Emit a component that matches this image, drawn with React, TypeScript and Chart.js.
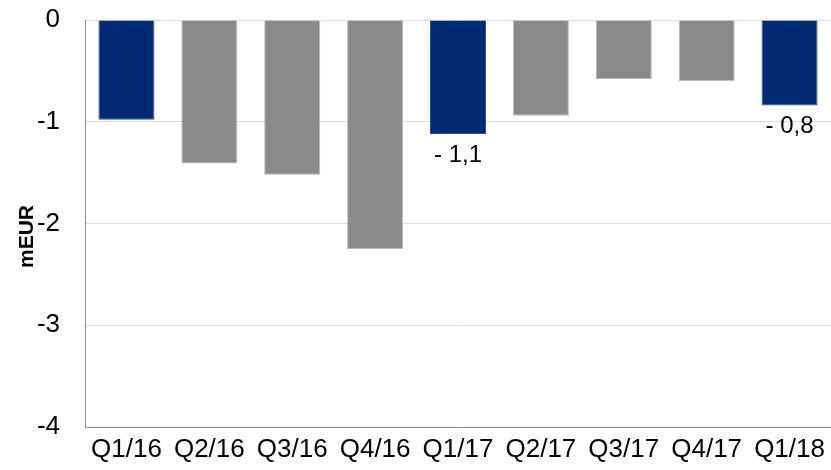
import { useEffect, useRef } from "react";
import { Chart, registerables } from "chart.js";

Chart.register(...registerables);

// Quarterly result in mEUR
const quarters = ["Q1/16", "Q2/16", "Q3/16", "Q4/16", "Q1/17", "Q2/17", "Q3/17", "Q4/17", "Q1/18"];
const resultValues = [-0.98, -1.41, -1.52, -2.25, -1.12, -0.94, -0.58, -0.6, -0.84];
// First quarters of each year are shown in the accent colour
const firstQuarter = [true, false, false, false, true, false, false, false, true];
// Bars that carry a value label
const labelledBars = [4, 8];
const yMin = -4;
const yMax = 0;
const yStep = 1;
const axisTitle = "mEUR";

const NAVY = "#002a74";
const GREY = "#8a8a8a";
const FONT = '"Liberation Sans", Arial, sans-serif';

const formatValue = (v: number) => {
  const s = Math.abs(v).toFixed(1).replace(".", ",");
  return v < 0 ? "- " + s : s;
};

const valueLabelPlugin = {
  id: "valueLabels",
  afterDatasetsDraw(chart: any) {
    const { ctx } = chart;
    const meta = chart.getDatasetMeta(0);
    ctx.save();
    ctx.font = `24px ${FONT}`;
    ctx.fillStyle = "#000";
    ctx.textAlign = "center";
    ctx.textBaseline = "middle";
    labelledBars.forEach((i) => {
      const bar = meta.data[i];
      const v = resultValues[i];
      ctx.fillText(formatValue(v), bar.x, bar.y + 21);
    });
    ctx.restore();
  },
};

const axisTitlePlugin = {
  id: "axisTitleLeft",
  afterDraw(chart: any) {
    const { ctx, chartArea } = chart;
    ctx.save();
    ctx.translate(33, (chartArea.top + chartArea.bottom) / 2 + 13);
    ctx.rotate(-Math.PI / 2);
    ctx.font = `bold 21px ${FONT}`;
    ctx.fillStyle = "#000";
    ctx.textAlign = "center";
    ctx.textBaseline = "alphabetic";
    ctx.fillText(axisTitle, 0, 0);
    ctx.restore();
  },
};

export default function App() {
  const canvasRef = useRef<HTMLCanvasElement | null>(null);

  useEffect(() => {
    document.body.style.margin = "0";
    const canvas = canvasRef.current;
    if (!canvas) return;
    const chart = new Chart(canvas, {
      type: "bar",
      data: {
        labels: quarters,
        datasets: [
          {
            data: resultValues,
            backgroundColor: firstQuarter.map((f) => (f ? NAVY : GREY)),
            borderColor: firstQuarter.map((f) => (f ? "#2f4d8a" : "#b8b8b8")),
            borderWidth: 1,
            barPercentage: 0.676,
            categoryPercentage: 1,
          },
        ],
      },
      options: {
        responsive: false,
        animation: false,
        layout: { padding: { top: 20, right: 0, left: 0, bottom: 0 } },
        plugins: {
          legend: { display: false },
          tooltip: { enabled: false },
        },
        scales: {
          x: {
            grid: { display: false, drawTicks: false },
            border: { display: true, color: "#8c8c8c", width: 1 },
            ticks: {
              color: "#000",
              font: { family: FONT, size: 26 },
              padding: 7,
              maxRotation: 0,
              autoSkip: false,
            },
            afterFit(scale: any) {
              scale.height = 43;
              scale.paddingLeft = 0;
              scale.paddingRight = 0;
            },
          },
          y: {
            min: yMin,
            max: yMax,
            grid: { color: "#dcdcdc", lineWidth: 1, drawTicks: false },
            border: { display: true, color: "#8c8c8c", width: 1 },
            ticks: {
              stepSize: yStep,
              color: "#000",
              font: { family: FONT, size: 26 },
              padding: 25,
              callback: (v: any) => String(v),
            },
            afterFit(scale: any) {
              scale.width = 85;
              scale.paddingTop = 0;
              scale.paddingBottom = 0;
            },
          },
        },
      },
      plugins: [valueLabelPlugin, axisTitlePlugin],
    });
    return () => chart.destroy();
  }, []);

  return (
    <div style={{ width: 831, height: 470 }}>
      <canvas ref={canvasRef} width={831} height={470} />
    </div>
  );
}
